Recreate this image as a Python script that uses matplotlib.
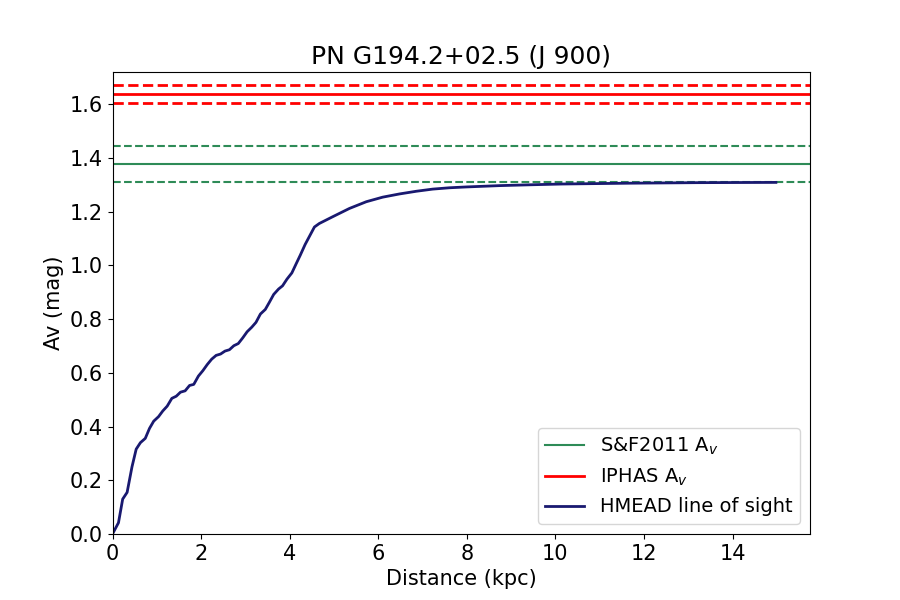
import matplotlib
matplotlib.use("Agg")
import matplotlib.pyplot as plt

# HMEAD line of sight (distance in kpc, Av in mag)
dist = [0.0, 0.135, 0.23, 0.33, 0.44, 0.535, 0.63, 0.74, 0.835, 0.93, 1.04, 1.135,
        1.235, 1.34, 1.44, 1.535, 1.64, 1.74, 1.835, 1.94, 2.04, 2.14, 2.24, 2.34,
        2.44, 2.54, 2.64, 2.74, 2.84, 2.94, 3.04, 3.145, 3.24, 3.34, 3.45, 3.54,
        3.64, 3.75, 3.84, 3.94, 4.05, 4.15, 4.24, 4.35, 4.45, 4.56, 4.67, 4.97,
        5.35, 5.73, 6.10, 6.48, 6.86, 7.23, 7.61, 7.98, 8.74, 9.41, 10.16, 11.67,
        13.18, 14.98]
av = [0.0, 0.042, 0.130, 0.155, 0.25, 0.316, 0.340, 0.356, 0.393, 0.420, 0.437, 0.458,
      0.476, 0.505, 0.513, 0.528, 0.533, 0.553, 0.557, 0.588, 0.608, 0.631, 0.651, 0.665,
      0.670, 0.681, 0.686, 0.701, 0.709, 0.730, 0.753, 0.770, 0.788, 0.819, 0.836, 0.862,
      0.892, 0.912, 0.924, 0.949, 0.972, 1.007, 1.038, 1.078, 1.109, 1.143, 1.156, 1.181,
      1.212, 1.237, 1.254, 1.266, 1.276, 1.284, 1.289, 1.292, 1.297, 1.300, 1.303, 1.306,
      1.308, 1.309]

sf_av, sf_err = 1.378, 0.067        # S&F2011
iphas_av, iphas_err = 1.637, 0.034  # IPHAS

fig, ax = plt.subplots(figsize=(9, 6), dpi=100)

ax.axhline(sf_av, color="seagreen", lw=1.5, label="S&F2011 A$_v$")
ax.axhline(sf_av + sf_err, color="seagreen", lw=1.5, ls="--")
ax.axhline(sf_av - sf_err, color="seagreen", lw=1.5, ls="--")

ax.axhline(iphas_av, color="red", lw=2, label="IPHAS A$_v$")
ax.axhline(iphas_av + iphas_err, color="red", lw=2, ls="--")
ax.axhline(iphas_av - iphas_err, color="red", lw=2, ls="--")

ax.plot(dist, av, color="midnightblue", lw=2, label="HMEAD line of sight")

ax.set_xlim(0, 15.75)
ax.set_ylim(0, 1.72)
ax.set_title("PN G194.2+02.5 (J 900)", fontsize=18)
ax.set_xlabel("Distance (kpc)", fontsize=15)
ax.set_ylabel("Av (mag)", fontsize=15)
ax.tick_params(labelsize=15)
ax.legend(loc="lower right", fontsize=14)

plt.savefig("out.png")
